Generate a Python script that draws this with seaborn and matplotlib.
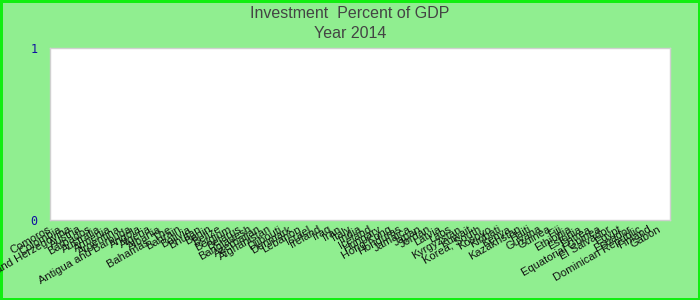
import matplotlib
matplotlib.use("Agg")
import matplotlib.pyplot as plt
import matplotlib.transforms as mtransforms
import seaborn as sns
import pandas as pd

countries = [
    "Comoros", "Colombia", "Bosnia and Herzegovina", "Austria", "Barbados",
    "Australia", "Armenia", "Argentina", "Antigua and Barbuda", "Angola",
    "Algeria", "Albania", "Bahamas, The", "Bahrain", "Bolivia", "Bhutan",
    "Benin", "Belize", "Belgium", "Belarus", "Bangladesh", "Azerbaijan",
    "Afghanistan", "Djibouti", "Denmark", "Lebanon", "Israel", "Ireland",
    "Iraq", "Iran", "Italy", "India", "Iceland", "Hungary", "Hong Kong",
    "Honduras", "Jamaica", "Japan", "Jordan", "Latvia", "Laos", "Kyrgyzstan",
    "Kuwait", "Korea, South", "Kosovo", "Kiribati", "Kenya", "Kazakhstan",
    "Haiti", "Guyana", "Guinea", "Fiji", "Ethiopia", "Estonia", "Eritrea",
    "Equatorial Guinea", "El Salvador", "Egypt", "Ecuador",
    "Dominican Republic", "Finland", "Gabon",
]
values = [0.0] * len(countries)
y_ticks = [0, 1]

df = pd.DataFrame({"country": countries, "value": values})

sns.set_style("white")
plt.rcParams["font.family"] = ["Liberation Sans", "DejaVu Sans"]

fig = plt.figure(figsize=(7, 3), dpi=100, facecolor="#90EE90",
                 edgecolor="#11EE11", linewidth=2.5)
ax = fig.add_axes([50 / 700, 1 - 220 / 300, 620 / 700, 172 / 300])
ax.set_facecolor("white")

sns.barplot(data=df, x="country", y="value", color="#4472C4", ax=ax)

ax.set_ylim(0, 1)
ax.set_yticks(y_ticks)
ax.set_yticklabels([str(t) for t in y_ticks], color="#1010A0",
                   family="DejaVu Sans Mono", fontsize=8.5)
ax.tick_params(axis="y", length=0, pad=9)
ax.tick_params(axis="x", length=0, pad=3)
offset = mtransforms.ScaledTranslation(-7 / 100, 0, fig.dpi_scale_trans)
for lbl in ax.get_xticklabels():
    lbl.set_rotation(30)
    lbl.set_ha("right")
    lbl.set_rotation_mode("anchor")
    lbl.set_fontsize(8)
    lbl.set_color("#111111")
    lbl.set_transform(lbl.get_transform() + offset)
ax.set_xlabel("")
ax.set_ylabel("")
for s in ax.spines.values():
    s.set_color("#D0D0D0")
    s.set_linewidth(1)

fig.text(0.5, 1 - 13 / 300, "Investment  Percent of GDP", ha="center",
         va="center", fontsize=11.5, color="#444444")
fig.text(0.5, 1 - 33 / 300, "Year 2014", ha="center", va="center",
         fontsize=11.5, color="#444444")

fig.savefig("out.png", dpi=100, facecolor=fig.get_facecolor(),
            edgecolor=fig.get_edgecolor())
